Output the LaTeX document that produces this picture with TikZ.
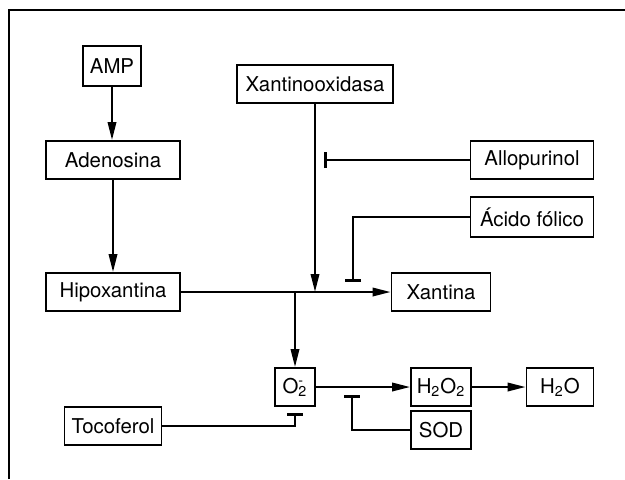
\documentclass[tikz,border=0pt]{standalone}
\usepackage{fontspec}
\setmainfont{TeX Gyre Heros}
\usetikzlibrary{arrows.meta, positioning, calc}

\begin{document}
\begin{tikzpicture}[
  x=0.5pt, y=-0.5pt,
  font=\fontsize{10.2}{12}\selectfont,
  every node/.style={align=center},
  %% ─── styles ─────────────────────────────────────────────
  box/.style={
    draw=black, line width=0.9pt, inner sep=1pt,
    minimum height=19pt
  },
  arr/.style={-{Triangle[length=9pt, width=4.2pt]}, line width=1.1pt},
  inh/.style={-{Bar[width=8pt, line width=1.4pt]}, line width=1pt}
]

  \useasboundingbox (0,0) rectangle (625,479);

  %% ─── frame ──────────────────────────────────────────────
  \draw[line width=1.1pt] (9,479) -- (9,10) -- (625,10);

  %% ─── 1. purine path ─────────────────────────────────────
  \node[box, minimum width=29pt, minimum height=20pt] (AMP) at (112,66) {AMP};
  \node[box, minimum width=67pt] (Adenosina) at (113,160) {Adenosina};
  \node[box, minimum width=67pt] (Hipoxantina) at (113,292) {Hipoxantina};
  \node[box, minimum width=49.5pt] (Xantina) at (441,292) {Xantina};

  %% ─── 2. enzyme and inhibitors ───────────────────────────
  \node[box, minimum width=78pt] (XO) at (315,84) {Xantinooxidasa};
  \node[box, minimum width=61.5pt] (Allopurinol) at (532,160) {Allopurinol};
  \node[box, minimum width=61.5pt, minimum height=20pt] (Acido) at (532,217) {Ácido fólico};

  %% ─── 3. radicals ────────────────────────────────────────
  \node[box, minimum width=20pt] (O2) at (295,387) {O\rlap{\textsuperscript{-}}\textsubscript{2}};
  \node[box, minimum width=30pt] (H2O2) at (441,387) {H\textsubscript{2}O\textsubscript{2}};
  \node[box, minimum width=33.5pt] (H2O) at (560,387) {H\textsubscript{2}O};
  \node[box, minimum width=30pt] (SOD) at (441,430) {SOD};
  \node[box, minimum width=48.5pt] (Tocoferol) at (113,426) {Tocoferol};

  % junctions and free ends
  \coordinate (jXO) at (XO.south |- Hipoxantina.east);
  \coordinate (jO2) at (O2.north |- Hipoxantina.east);
  \coordinate (alloEnd) at (324,160);
  \coordinate (acidoEnd) at (353,282);
  \coordinate (sodEnd) at (352,395);
  \coordinate (tocoEnd) at (295,413);

  %% ─── connections ────────────────────────────────────────
  \draw[arr] (AMP.south) -- (AMP.south |- Adenosina.north);
  \draw[arr] (Adenosina.south) -- (Adenosina.south |- Hipoxantina.north);
  \draw[arr] (Hipoxantina.east) -- (Xantina.west);
  \draw[arr] (XO.south) -- (jXO);
  \draw[arr] (jO2) -- (O2.north);

  \draw[arr] (O2.east) -- (H2O2.west);
  \draw[arr] (H2O2.east) -- (H2O.west);

  % inhibitions
  \draw[inh] (Allopurinol.west) -- (alloEnd);
  \draw[inh] (Acido.west) -| (acidoEnd);
  \draw[inh] (SOD.west) -| (sodEnd);
  \draw[inh] (Tocoferol.east) -| (tocoEnd);

\end{tikzpicture}
\end{document}
